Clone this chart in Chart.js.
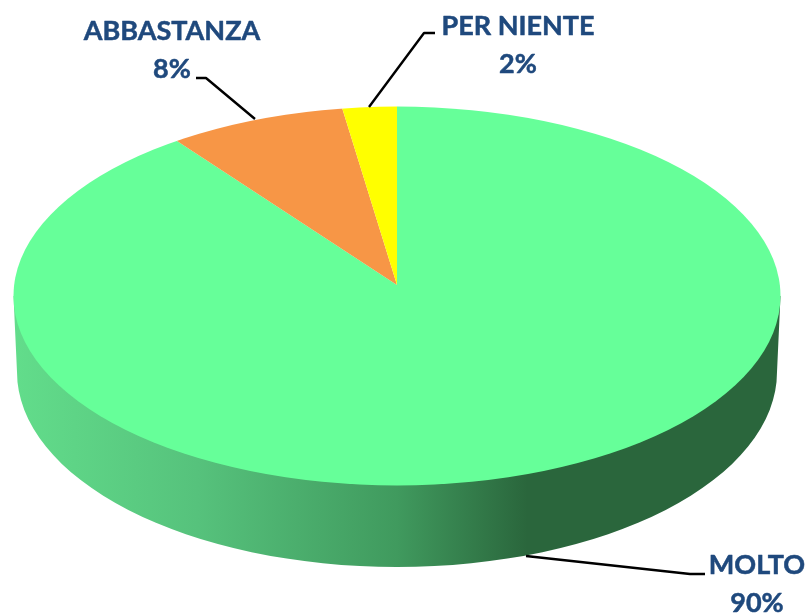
<!DOCTYPE html>
<html>
<head>
<meta charset="utf-8">
<title>Torta 3D</title>
<script src="https://cdn.jsdelivr.net/npm/chart.js@4/dist/chart.umd.js"></script>
<style>
  html, body { margin: 0; padding: 0; background: #fff; overflow: hidden; }
  #wrap { width: 808px; height: 613px; }
</style>
</head>
<body>
<div id="wrap"><canvas id="pie" width="808" height="613"></canvas></div>
<script>
// ─── DATA ─────────────────────────────────
const categories = ['MOLTO', 'ABBASTANZA', 'PER NIENTE'];
const sliceValues = [90.1, 7.6, 2.3];   // slice sizes, they round to the printed 90/8/2
const sliceColors = ['#66ff99', '#f79646', '#ffff00'];

// ─── 3D LOOK ──────────────────────────────
const face = { x: 397, y: 296, rx: 383.5, ry: 189.5, apexY: 285 };
const base = { y: 372, rx: 380, ry: 195 };
const scaleX = 392, scaleTop = 184, scaleBottom = 212;

const labelFont = 'bold 27px Lato, "Open Sans", sans-serif';
const labelBoxes = [
  { x: 757, y: 574, line: [[526, 556], [690, 574], [705, 574]] },
  { x: 172, y: 40, line: [[255, 119], [206, 78], [196, 78]] },
  { x: 518, y: 35, line: [[369, 107], [424, 33], [435, 33]] },
];

function applyFace(chart, ctx, top) {
  const arc = chart.getDatasetMeta(0).data[0];
  ctx.save();
  ctx.beginPath();
  if (top) ctx.rect(0, 0, 808, face.apexY);
  else ctx.rect(0, face.apexY, 808, 613 - face.apexY);
  ctx.clip();
  ctx.beginPath();
  ctx.ellipse(face.x, face.y, face.rx, face.ry, 0, 0, Math.PI * 2);
  ctx.clip();
  ctx.translate(face.x, face.apexY);
  ctx.scale(scaleX / arc.outerRadius, (top ? scaleTop : scaleBottom) / arc.outerRadius);
  ctx.translate(-arc.x, -arc.y);
}

const pie3d = {
  id: 'pie3d',
  beforeDatasetsDraw(chart) {
    const ctx = chart.ctx;
    // side wall
    const wall = ctx.createLinearGradient(face.x - face.rx, 0, face.x + face.rx, 0);
    wall.addColorStop(0, '#62dd8b');
    wall.addColorStop(0.24, '#56c27c');
    wall.addColorStop(0.5, '#409a5e');
    wall.addColorStop(0.67, '#2a663c');
    wall.addColorStop(1, '#2a663c');
    ctx.save();
    ctx.fillStyle = wall;
    ctx.beginPath();
    ctx.moveTo(face.x - face.rx, face.y);
    ctx.lineTo(face.x - base.rx, base.y);
    ctx.ellipse(face.x, base.y, base.rx, base.ry, 0, Math.PI, 0, true);
    ctx.lineTo(face.x + face.rx, face.y);
    ctx.closePath();
    ctx.fill();
    ctx.restore();
    applyFace(chart, ctx, true);
  },
  afterDatasetsDraw(chart) {
    const ctx = chart.ctx;
    ctx.restore();
    applyFace(chart, ctx, false);
    chart.getDatasetMeta(0).controller.draw();
    ctx.restore();

    // leader lines and labels
    ctx.save();
    ctx.strokeStyle = '#000';
    ctx.lineWidth = 2.4;
    ctx.lineJoin = 'round';
    labelBoxes.forEach((box) => {
      ctx.beginPath();
      box.line.forEach((p, j) => j ? ctx.lineTo(p[0], p[1]) : ctx.moveTo(p[0], p[1]));
      ctx.stroke();
    });
    ctx.font = labelFont;
    ctx.fillStyle = '#1f497d';
    ctx.strokeStyle = '#1f497d';
    ctx.lineWidth = 0.5;
    ctx.textAlign = 'center';
    ctx.textBaseline = 'alphabetic';
    labelBoxes.forEach((box, i) => {
      const pct = Math.round(sliceValues[i]) + '%';
      ctx.fillText(categories[i], box.x, box.y);
      ctx.strokeText(categories[i], box.x, box.y);
      ctx.fillText(pct, box.x, box.y + 38);
      ctx.strokeText(pct, box.x, box.y + 38);
    });
    ctx.restore();
  }
};

// ─── CHART ────────────────────────────────
new Chart(document.getElementById('pie').getContext('2d'), {
  type: 'pie',
  data: {
    labels: categories,
    datasets: [{
      data: sliceValues,
      backgroundColor: sliceColors,
      borderWidth: 0,
      clip: false,
    }]
  },
  options: {
    responsive: false,
    animation: false,
    plugins: {
      legend: { display: false },
      tooltip: { enabled: false }
    }
  },
  plugins: [pie3d]
});
</script>
</body>
</html>
